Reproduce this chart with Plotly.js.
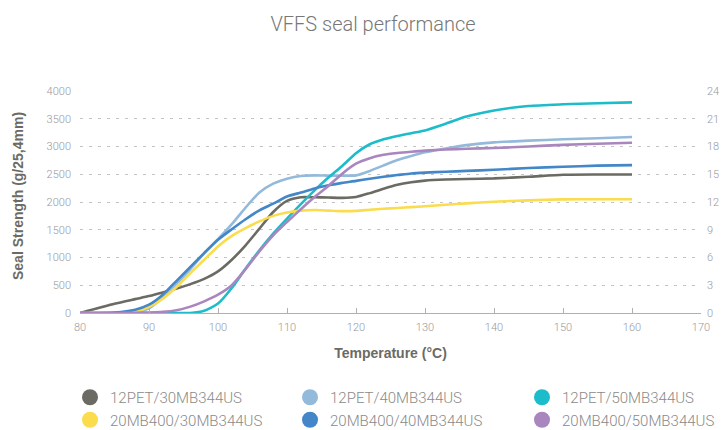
<!DOCTYPE html>
<html><head><meta charset="utf-8">
<script src="https://cdn.plot.ly/plotly-3.0.1.min.js"></script>
<style>html,body{margin:0;padding:0;background:#fff}#chart{width:721px;height:430px}</style>
</head><body><div id="chart"></div>
<script>
const temperature = [80, 85, 88, 90, 92, 94, 96, 98, 100, 102, 104, 106, 108, 110, 112, 114, 116, 118, 120, 122, 124, 126, 128, 130, 133, 136, 140, 145, 150, 155, 160];
const pet30 = [0,165,250,305,370,440,520,615,750,960,1220,1520,1820,2020,2085,2085,2080,2075,2090,2160,2240,2310,2355,2385,2405,2415,2425,2455,2490,2495,2495];
const pet40 = [0,0,15,85,280,520,790,1080,1330,1600,1900,2170,2330,2420,2470,2480,2475,2475,2480,2560,2660,2755,2830,2895,2965,3025,3075,3105,3130,3150,3170];
const pet50 = [0,0,0,0,0,0,0,40,170,450,800,1130,1430,1700,1960,2210,2440,2650,2880,3040,3130,3190,3240,3290,3410,3540,3650,3730,3760,3780,3795];
const mb30 = [0,0,20,110,260,470,720,960,1200,1390,1530,1650,1750,1810,1845,1855,1845,1835,1840,1860,1878,1893,1908,1923,1950,1975,2005,2030,2048,2050,2050];
const mb40 = [0,10,60,150,330,580,830,1080,1320,1510,1690,1850,1970,2100,2170,2245,2300,2345,2380,2420,2455,2485,2515,2530,2545,2560,2580,2612,2635,2655,2665];
const mb50 = [0,0,5,10,20,50,115,210,330,500,790,1110,1400,1640,1870,2090,2290,2510,2690,2790,2850,2882,2905,2925,2945,2960,2972,3000,3030,3050,3068];

const seriesNames = ['12PET/30MB344US','12PET/40MB344US','12PET/50MB344US','20MB400/30MB344US','20MB400/40MB344US','20MB400/50MB344US'];
const seriesValues = [pet30, pet40, pet50, mb30, mb40, mb50];
const seriesColors = ['#6b6b63','#94badb','#1dbccb','#fadc4c','#4387c8','#aa86be'];
const legendIds = ['legend','legend2','legend3','legend','legend2','legend3'];

const LIGHT = 'Roboto, "Liberation Sans", Arial, sans-serif';
const BOLD = '"Liberation Sans", Arial, sans-serif';

const traces = [];
seriesValues.forEach((vals, i) => {
  traces.push({
    x: temperature, y: vals, type: 'scatter', mode: 'lines',
    name: seriesNames[i], showlegend: false, legendgroup: 'g' + i,
    line: {color: seriesColors[i], width: 2.6, shape: 'spline', smoothing: 0.6},
    hoverinfo: 'x+y+name'
  });
});
seriesValues.forEach((vals, i) => {
  traces.push({
    x: [null], y: [null], type: 'scatter', mode: 'markers', yaxis: 'y2',
    name: seriesNames[i], showlegend: true, legendgroup: 'g' + i, legend: legendIds[i],
    marker: {color: seriesColors[i], size: 16}
  });
});

const legendBase = {
  xref: 'container', yref: 'container', y: 1 - 381/430, xanchor: 'left', yanchor: 'top',
  orientation: 'v', bgcolor: 'rgba(0,0,0,0)', itemsizing: 'trace', tracegroupgap: 0,
  font: {family: LIGHT, size: 15, color: '#8a8a8a', weight: 300}
};

const layout = {
  width: 721, height: 430,
  margin: {l: 80, r: 20, t: 91, b: 117, pad: 0, autoexpand: false},
  paper_bgcolor: '#ffffff', plot_bgcolor: '#ffffff',
  showlegend: true,
  title: {text: 'VFFS seal performance', xref: 'container', yref: 'container', x: 373/721, xanchor: 'center', y: 1 - 24/430, yanchor: 'middle',
          font: {family: LIGHT, size: 20, color: '#777777', weight: 300}},
  xaxis: {
    range: [80, 170], tick0: 80, dtick: 10, showgrid: false, zeroline: false,
    showline: true, linecolor: '#b0b0b0', linewidth: 1,
    ticks: 'inside', ticklen: 5, tickcolor: '#b0b0b0', ticklabelstandoff: 4,
    tickfont: {family: LIGHT, size: 11, color: '#999999', weight: 300},
    title: {text: 'Temperature (°C)', standoff: 14, font: {family: BOLD, size: 14, color: '#6b6b63', weight: 'bold'}}
  },
  yaxis: {
    range: [0, 4000], dtick: 500, showgrid: true, gridcolor: '#c4c4c4', griddash: '3px,6px', gridwidth: 1,
    zeroline: false, showline: false, ticks: '', ticklabelstandoff: 8,
    tickfont: {family: LIGHT, size: 11, color: '#999999', weight: 300}
  },
  yaxis2: {
    overlaying: 'y', side: 'right', range: [0, 24], dtick: 3, showgrid: false, zeroline: false,
    showline: false, ticks: '', ticklabelstandoff: 5,
    tickfont: {family: LIGHT, size: 11, color: '#999999', weight: 300}
  },
  legend: Object.assign({}, legendBase, {x: 70/721}),
  legend2: Object.assign({}, legendBase, {x: 290/721}),
  legend3: Object.assign({}, legendBase, {x: 522/721}),
  annotations: [{
    text: '<b>Seal Strength (g/25,4mm)</b>', xref: 'paper', yref: 'paper',
    x: (18 - 80)/621, y: (313 - 196)/222, xanchor: 'center', yanchor: 'middle',
    textangle: -90, showarrow: false, font: {family: BOLD, size: 14, color: '#6b6b63'}
  }]
};

Plotly.newPlot('chart', traces, layout, {displayModeBar: false, responsive: false});
</script>
</body></html>
